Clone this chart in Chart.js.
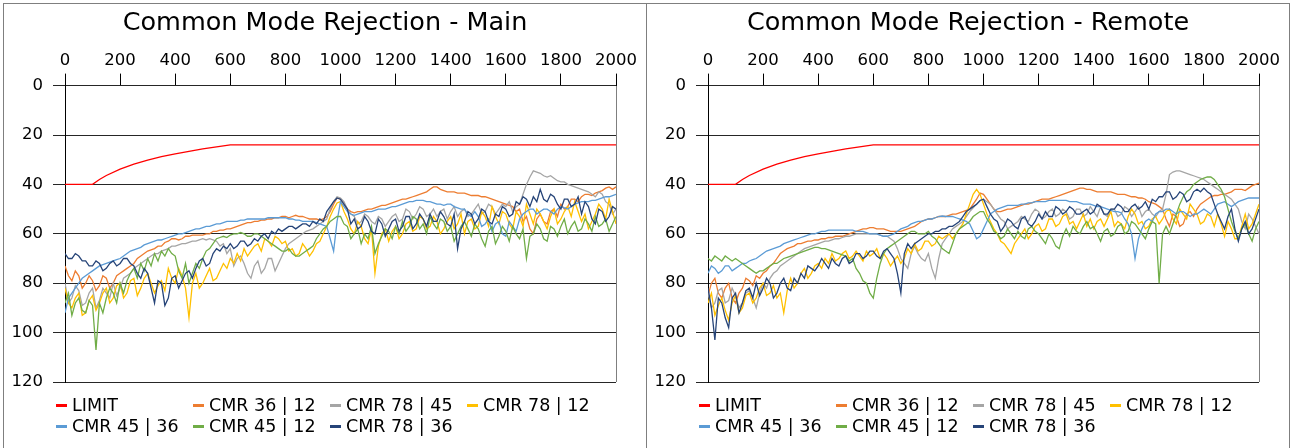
<!DOCTYPE html>
<html>
<head>
<meta charset="utf-8">
<script src="https://cdn.jsdelivr.net/npm/chart.js@4.4.1/dist/chart.umd.min.js"></script>
<style>
  body { margin: 0; width: 1290px; height: 448px; overflow: hidden; background: #fff; position: relative; font-family: "DejaVu Sans", sans-serif; }
  .panel { position: absolute; top: 3px; width: 644px; height: 470px; border: 1px solid #7f7f7f; box-sizing: border-box; }
  #p1 { left: 3px; }
  #p2 { left: 646px; }
  .panel canvas { position: absolute; left: 0; top: 0; }
  .item { position: absolute; font-size: 17.5px; line-height: 20px; white-space: nowrap; color: #000; }
  .item i { display: inline-block; width: 11px; height: 3px; vertical-align: middle; margin-right: 5px; position: relative; top: -1px; }
</style>
</head>
<body>
<div class="panel" id="p1"><canvas id="mainChart" width="642" height="444"></canvas></div>
<div class="panel" id="p2"><canvas id="remoteChart" width="642" height="444"></canvas></div>
<script>
// sample positions shared by all measured traces
const freq = [
  0, 12.5, 25, 37.5, 50, 62.5, 75, 87.5,
  100, 112.5, 125, 137.5, 150, 162.5, 175, 187.5,
  200, 212.5, 225, 237.5, 250, 262.5, 275, 287.5,
  300, 312.5, 325, 337.5, 350, 362.5, 375, 387.5,
  400, 412.5, 425, 437.5, 450, 462.5, 475, 487.5,
  500, 512.5, 525, 537.5, 550, 562.5, 575, 587.5,
  600, 612.5, 625, 637.5, 650, 662.5, 675, 687.5,
  700, 712.5, 725, 737.5, 750, 762.5, 775, 787.5,
  800, 812.5, 825, 837.5, 850, 862.5, 875, 887.5,
  900, 912.5, 925, 937.5, 950, 962.5, 975, 987.5,
  1000, 1012.5, 1025, 1037.5, 1050, 1062.5, 1075, 1087.5,
  1100, 1112.5, 1125, 1137.5, 1150, 1162.5, 1175, 1187.5,
  1200, 1212.5, 1225, 1237.5, 1250, 1262.5, 1275, 1287.5,
  1300, 1312.5, 1325, 1337.5, 1350, 1362.5, 1375, 1387.5,
  1400, 1412.5, 1425, 1437.5, 1450, 1462.5, 1475, 1487.5,
  1500, 1512.5, 1525, 1537.5, 1550, 1562.5, 1575, 1587.5,
  1600, 1612.5, 1625, 1637.5, 1650, 1662.5, 1675, 1687.5,
  1700, 1712.5, 1725, 1737.5, 1750, 1762.5, 1775, 1787.5,
  1800, 1812.5, 1825, 1837.5, 1850, 1862.5, 1875, 1887.5,
  1900, 1912.5, 1925, 1937.5, 1950, 1962.5, 1975, 1987.5,
  2000
];

const limitFreq = [0, 100, 125, 150, 200, 250, 300, 350, 400, 450, 500, 550, 600, 2000];
const limitDb = [40, 40, 38, 36.4, 33.8, 31.8, 30.2, 28.8, 27.6, 26.6, 25.6, 24.8, 24, 24];

const seriesNames = ["CMR 36 | 12", "CMR 78 | 45", "CMR 78 | 12", "CMR 45 | 36", "CMR 45 | 12", "CMR 78 | 36"];

// Main
const main_36_12 = [
  73, 77, 79, 75, 77, 82, 80, 77,
  79, 83, 81, 77, 78, 82, 80, 77,
  76, 75, 74, 73, 72, 70, 69, 68,
  67, 66.5, 66, 65, 65, 63.5, 63, 62,
  62, 62.5, 62, 61, 61, 60.5, 60.5, 60.5,
  60.5, 60, 60, 59, 59, 58.5, 58.5, 58,
  58, 57.5, 57, 56.5, 56, 55.5, 55.5, 55,
  55, 54.5, 54.5, 54, 54, 53.5, 53.5, 53,
  53, 53.5, 53, 52.5, 53, 53, 53.5, 54,
  54, 54, 54.5, 54, 53, 51, 48, 45.5,
  46, 48, 50, 51, 51.5, 51, 51, 50.5,
  50, 50, 49.5, 49, 48.5, 48.5, 48, 47.5,
  47, 46.5, 46, 46, 45.5, 45, 44.5, 44,
  43.5, 43, 42, 41, 41, 42, 42.5, 43,
  43, 43, 43.5, 43.5, 43.5, 44, 44.5, 44.5,
  44.5, 45, 45, 45.5, 46, 46.5, 47, 47.5,
  48, 48.5, 49, 51, 50, 55, 53, 58,
  60, 54, 52, 55, 56, 51, 50, 53,
  48, 50, 49, 46, 46, 47, 45, 44,
  44, 44.5, 43.5, 43, 42.5, 41.5, 41, 42,
  41
];
const main_78_45 = [
  80, 88, 86, 81, 83, 89, 88, 84,
  82, 90, 87, 82, 84, 86, 80, 85,
  82, 78, 77, 76, 74, 73, 72, 71,
  70, 69, 68, 68, 67, 66.5, 66, 65,
  65, 64.5, 64, 64, 63.5, 63, 63, 62.5,
  62, 62.5, 62, 62.5, 63, 65, 64, 68,
  66, 73, 70, 69, 72, 76, 78, 73,
  71, 76, 74, 70, 70, 75, 72, 69,
  66, 64, 63, 62, 61, 60, 59, 58.5,
  58, 57, 56, 55, 54, 50, 47, 45,
  45.5, 47, 50, 52, 53, 56, 55, 52,
  53, 55, 56, 53, 54, 57, 55, 53,
  52, 55, 54, 50, 51, 54, 52, 49,
  50, 53, 52, 50, 53, 51, 50, 54,
  51, 49, 53, 51, 50, 53, 52, 50,
  48, 52, 51, 48, 49, 52, 50, 48,
  49, 47, 51, 49, 48, 44, 40, 37,
  34.5, 35, 35.5, 36.5, 37, 36.5, 37.5, 38.5,
  39, 39, 40, 40.5, 41, 41.5, 42, 42.5,
  43, 44, 45, 43, 44, 47, 48, 52,
  50
];
const main_78_12 = [
  82, 88, 90, 86, 84, 93, 92, 87,
  85, 91, 88, 84, 82, 88, 86, 81,
  80, 86, 84, 79, 78, 85, 82, 78,
  76, 80, 84, 81, 79, 83, 74, 78,
  80, 74, 77, 82, 94, 80, 76, 82,
  80, 77, 74, 79, 78, 75, 72, 74,
  70, 72, 68, 71, 66, 69, 67, 65,
  64, 67, 62, 63, 65, 61, 62, 64,
  63, 67, 66, 69, 68, 64, 66, 69,
  67, 64, 63, 60, 57, 53, 50, 47.5,
  47, 51, 54, 58, 60, 55, 57, 62,
  64, 58, 76, 65, 60, 58, 63, 59,
  57, 62, 60, 56, 55, 59, 58, 53,
  54, 58, 57, 53, 55, 60, 58, 55,
  53, 58, 56, 52, 60, 55, 54, 58,
  57, 51, 53, 57, 49, 53, 56, 51,
  52, 56, 58, 51, 53, 57, 48, 52,
  56, 50, 52, 55, 58, 53, 50, 56,
  54, 51, 49, 53, 47, 51, 55, 52,
  58, 55, 52, 48, 50, 54, 46, 51,
  56
];
const main_45_36 = [
  92, 86, 84, 82, 80, 78, 77, 76,
  75, 74, 73, 72.5, 72, 71.5, 71, 70.5,
  70, 69, 68, 67, 66.5, 66, 65.5, 64.5,
  64, 63.5, 63, 62.5, 62.5, 62, 61.5, 61,
  60.5, 60, 60, 59.5, 59, 58.5, 58, 58,
  57.5, 57, 57, 56.5, 56, 56, 55.5, 55,
  55, 55, 55, 54.5, 54.5, 54, 54, 54,
  54, 54, 54, 53.5, 53.5, 53.5, 53.5, 53.5,
  53.5, 54, 54, 54.5, 54.5, 55, 55, 55,
  55, 55.5, 56, 56.5, 57, 62, 67, 55,
  47, 49, 51, 52, 52.5, 52, 51.5, 51,
  51, 51, 50.5, 50, 50, 50, 49.5, 49,
  49, 48.5, 48, 47.5, 47, 47, 46.5, 46.5,
  46.5, 47, 47, 47.5, 48, 48, 48.5, 48,
  48, 49, 49.5, 50, 50, 52, 53, 51,
  53, 57, 56, 54, 59, 56, 55, 60,
  61, 55, 57, 59, 54, 52, 51, 50,
  50, 52, 51, 50, 50, 51, 52, 50,
  49, 49.5, 50, 49, 48, 47.5, 47, 47,
  47, 46.5, 46.5, 46, 45.5, 45, 45, 44.5,
  44
];
const main_45_12 = [
  88, 84, 93, 88, 86, 91, 92, 87,
  89, 107, 88, 92, 86, 82, 84, 88,
  80, 84, 79, 76, 74, 78, 72, 75,
  70, 73, 68, 71, 67, 69, 66, 68,
  69, 75, 78, 72, 80, 76, 72, 74,
  70, 67, 66, 64, 62, 61.5, 61, 61.5,
  60.5, 60, 60, 59.5, 60, 61, 61, 60,
  60, 61, 62, 63, 64, 65, 66, 67,
  67, 66, 68, 69, 69, 68, 67, 66,
  65, 62, 60, 58, 57, 55, 54, 53,
  53, 56, 57, 62, 60, 58, 64, 60,
  62, 57, 68, 64, 61, 58, 59, 62,
  57, 60, 55, 59, 57, 53, 54, 58,
  56, 60, 53, 56, 58, 54, 55, 59,
  57, 63, 60, 57, 55, 58, 61, 56,
  58, 62, 65, 59, 57, 64, 61, 57,
  59, 63, 57, 60, 62, 58, 70, 61,
  60, 56, 58, 62, 63, 57, 58, 61,
  57, 54, 60, 57, 55, 59, 58, 54,
  56, 59, 53, 57, 56, 54, 59, 56,
  53
];
const main_78_36 = [
  68, 70, 70, 68, 69, 71, 71, 73,
  73, 71, 72, 75, 74, 72, 71, 73,
  72, 70, 70, 72, 73, 76, 78, 74,
  76, 82, 88, 79, 80, 89, 86, 78,
  77, 82, 79, 76, 75, 78, 74, 71,
  70, 73, 72, 68, 66, 67, 65, 66,
  64, 66, 65, 63, 63, 65, 64, 62,
  63, 61, 60, 62, 59, 60, 58, 59,
  58, 57, 57, 58, 57, 56, 56, 57,
  55, 56, 54, 55, 51, 49, 47, 45.5,
  46, 48, 50, 56, 54, 58, 57, 53,
  55, 59, 60, 54, 56, 61, 58, 55,
  54, 59, 57, 53, 53, 58, 56, 52,
  54, 57, 52, 55, 55, 51, 53, 56,
  57, 52, 66, 58, 55, 51, 52, 56,
  54, 50, 51, 55, 56, 52, 53, 49,
  50, 53, 52, 47, 48, 45, 46, 49,
  45, 47, 42, 46, 47, 44, 45, 48,
  50, 46, 46, 49, 48, 45, 52, 47,
  49, 54, 56, 50, 51, 55, 53, 49,
  50
];

// Remote
const remote_36_12 = [
  85, 80, 78, 84, 86, 82, 80, 86,
  88, 84, 82, 78, 79, 81, 77, 78,
  76, 75, 73, 72, 70, 68, 67, 66,
  65.5, 65, 64, 64, 63.5, 63, 63, 62.5,
  62.5, 62, 62, 61.5, 61.5, 61, 61, 61,
  60.5, 60, 59.5, 59, 58.5, 58, 58, 57.5,
  57.5, 58, 58, 58, 58.5, 59, 59, 59,
  59, 58.5, 58, 57.5, 57, 56, 55, 54.5,
  54, 54, 53.5, 53, 53, 53, 52.5, 52,
  52, 51.5, 51, 50.5, 50, 48, 46, 43.5,
  44, 46, 48, 50, 51, 51, 50.5, 50,
  50, 49.5, 49, 48.5, 48, 48, 47.5, 47,
  46.5, 46, 46, 46, 45.5, 45, 44.5, 44,
  43.5, 43, 42.5, 42, 41.5, 41.5, 42, 42,
  42.5, 43, 43, 43, 43, 43, 43.5, 44,
  44, 44, 44.5, 45, 45, 45.5, 45.5, 46,
  47, 47.5, 48, 49, 50, 54, 57, 52,
  53, 57, 56, 52, 51, 53, 50, 48,
  47, 46, 45, 44.5, 44.5, 44, 44, 43.5,
  43, 42, 42, 42, 42.5, 41.5, 40.5, 40,
  39.5
];
const remote_78_45 = [
  84, 90, 88, 83, 82, 88, 87, 82,
  85, 90, 88, 84, 83, 86, 90, 84,
  80, 82, 78, 76, 75, 73, 72, 71,
  70, 69, 68, 67, 66, 65.5, 65, 64.5,
  64, 63.5, 63, 63, 62.5, 62, 62, 61.5,
  61, 61, 60.5, 60, 60, 60, 60, 60,
  60, 60, 60.5, 61, 61, 62, 63, 66,
  70, 72, 74, 68, 65, 68, 70, 71,
  68, 74, 78, 70, 64, 62, 60, 58,
  57, 56, 55, 53, 51, 49.5, 48, 46.5,
  46, 47, 48, 50, 52, 54, 55, 58,
  57, 56, 55, 53, 54, 55, 52, 50,
  51, 54, 53, 51, 50, 53, 52, 50,
  51, 54, 53, 50, 50, 53, 52, 49,
  51, 53, 49, 52, 53, 50, 50, 53,
  52, 49, 50, 53, 51, 49, 53, 51,
  50, 52, 53, 51, 50, 44, 36, 35,
  34.5, 34.5, 35, 35.5, 36, 36.5, 37, 37.5,
  38, 39, 40, 41, 42, 43, 44, 45,
  46, 48, 50, 55, 58, 52, 54, 57,
  60
];
const remote_78_12 = [
  88, 84, 93, 89, 86, 91, 95, 88,
  85, 92, 90, 85, 84, 88, 86, 82,
  80, 85, 84, 81, 86, 84, 92, 83,
  78, 82, 80, 76, 74, 78, 76, 73,
  72, 74, 70, 72, 68, 71, 70, 68,
  67, 70, 69, 67, 69, 71, 67, 69,
  68, 66, 70, 68, 70, 73, 71, 69,
  72, 70, 66, 68, 64, 67, 66, 63,
  63, 65, 64, 61, 62, 61, 60, 62,
  60, 58, 56, 52, 48, 44, 42, 44,
  48, 52, 55, 58, 60, 63, 64, 66,
  68, 64, 62, 60, 58, 62, 60, 57,
  56, 59, 58, 54, 54, 57, 56, 53,
  52, 56, 55, 58, 55, 52, 57, 54,
  58, 55, 54, 57, 54, 51, 57, 55,
  56, 58, 53, 50, 52, 56, 55, 58,
  57, 54, 53, 56, 54, 51, 50, 54,
  56, 50, 52, 54, 48, 50, 52, 56,
  55, 52, 53, 57, 52, 56, 61, 55,
  58, 62, 62, 57, 52, 58, 56, 52,
  48
];
const remote_45_36 = [
  76, 73, 74, 76, 75, 73, 73, 75,
  74, 73, 72, 72, 71, 70.5, 70, 69,
  68, 67, 66.5, 66, 65.5, 65, 64, 63.5,
  63, 62.5, 62, 61.5, 61, 60.5, 60, 60,
  59.5, 59, 59, 58.5, 58.5, 58.5, 58.5, 58.5,
  58.5, 58.5, 58.5, 59, 59, 59, 59.5, 60,
  60, 60, 60.5, 61, 61, 60.5, 60, 59,
  58, 57.5, 57, 56, 55.5, 55, 55, 54.5,
  54, 54, 53.5, 53, 52.8, 53, 53, 53,
  53.5, 54, 54.5, 55, 56, 59, 62, 61,
  58, 55, 52, 51, 50, 49.5, 49, 48.5,
  48.5, 48.5, 48.5, 48, 48, 47.5, 47.5, 47,
  47, 47, 47, 46.5, 46.5, 46.5, 46.5, 46.5,
  46.5, 47, 47, 47, 47.5, 48, 48, 48,
  48.5, 49, 49, 49.5, 50, 50.5, 51, 51,
  51.5, 54, 56, 60, 70, 62, 58, 55,
  54, 55, 52, 51, 51, 50, 50, 51,
  52, 51, 51, 52, 53, 52, 52, 51,
  50, 51, 52, 50, 48, 47.5, 47, 48,
  49, 48, 47, 46.5, 46, 45.5, 45.5, 45.5,
  45.5
];
const remote_45_12 = [
  70, 71, 69, 70, 71, 69, 70, 71,
  70, 71, 72, 73, 74, 75, 76, 75,
  75, 74, 73, 72, 72, 71, 70, 69.5,
  69, 68.5, 68, 67.5, 67, 66.5, 66, 65.5,
  65.5, 66, 66, 66.5, 67, 67.5, 68, 68.5,
  69, 71, 70, 74, 76, 79, 80, 84,
  86, 78, 72, 68, 66, 65, 64, 63,
  62, 61, 60, 59, 59, 60, 60, 60,
  59, 61, 62, 64, 66, 67, 68, 64,
  60, 58, 57, 56, 55, 53, 52, 51,
  51, 54, 56, 59, 60, 62, 61, 58,
  60, 62, 59, 61, 62, 58, 57, 59,
  60, 62, 64, 60, 62, 65, 66, 61,
  58, 61, 57, 59, 60, 57, 55, 58,
  57, 60, 63, 59, 58, 61, 60, 57,
  56, 60, 59, 55, 56, 58, 60, 62,
  58, 55, 56, 80, 60, 57, 60, 56,
  52, 48, 45, 43, 42, 40, 39, 38,
  37.5, 37, 37, 38, 40, 42, 45, 50,
  55, 59, 62, 58, 56, 60, 63, 58,
  55
];
const remote_78_36 = [
  82, 90, 103, 86, 88, 94, 98, 86,
  84, 92, 88, 83, 82, 86, 80, 85,
  82, 78, 80, 86, 84, 80, 78, 82,
  83, 78, 80, 76, 78, 73, 74, 75,
  73, 70, 72, 74, 70, 72, 73, 70,
  69, 72, 71, 68, 68, 70, 69, 67,
  67, 69, 70, 67, 66, 68, 70, 76,
  84, 68, 64, 66, 64, 63, 62, 61,
  60, 60, 59, 59, 58, 58, 57, 57,
  56, 55, 53, 51, 50, 49, 48, 46.5,
  46, 49, 52, 54, 55, 59, 57, 54,
  55, 57, 58, 54, 53, 56, 57, 55,
  52, 54, 51, 53, 53, 49, 50, 52,
  51, 49, 50, 52, 52, 51, 50, 52,
  51, 48, 49, 52, 52, 50, 50, 48,
  49, 51, 51, 49, 48, 50, 49, 47,
  50, 46, 47, 45, 45, 43, 43, 46,
  45, 43, 44, 47, 46, 43, 42, 43,
  41.5, 43, 44, 48, 52, 55, 58, 53,
  50, 58, 63, 58, 55, 60, 58, 54,
  50
];

const FONT = '"DejaVu Sans", sans-serif';
const LIMIT_COLOR = "#FF0000";
const SERIES_COLORS = ["#ED7D31", "#A5A5A5", "#FFC000", "#5B9BD5", "#70AD47", "#264478"];

Chart.defaults.font.family = FONT;
Chart.defaults.color = "#000";

function toPoints(xs, ys) {
  return xs.map((x, i) => ({ x: x, y: ys[i] }));
}

function drawPanel(canvasId, panelId, title, series) {
  const datasets = [
    { label: "LIMIT", data: toPoints(limitFreq, limitDb), borderColor: LIMIT_COLOR },
  ];
  series.forEach((ys, i) => {
    datasets.push({ label: seriesNames[i], data: toPoints(freq, ys), borderColor: SERIES_COLORS[i] });
  });
  // later series sit on top, like the spreadsheet
  datasets.forEach((d, i) => {
    d.order = -i;
    d.borderWidth = 1.3;
    d.pointRadius = 0;
    d.fill = false;
    d.tension = 0;
  });

  const ctx = document.getElementById(canvasId).getContext("2d");
  new Chart(ctx, {
    type: "line",
    data: { datasets },
    options: {
      responsive: false,
      animation: false,
      events: [],
      layout: { padding: { left: 0, right: 0, top: 0, bottom: 66 } },
      plugins: {
        legend: { display: false },
        tooltip: { enabled: false },
        title: {
          display: true,
          text: title,
          color: "#000",
          font: { size: 25.5, weight: "normal" },
          padding: { top: 4, bottom: 0 },
        },
      },
      scales: {
        x: {
          type: "linear",
          position: "top",
          min: 0,
          max: 2000,
          afterFit: (scale) => { scale.height = 47; },
          ticks: {
            stepSize: 200, padding: 3, color: "#000", font: { size: 16.5 },
            maxRotation: 0, autoSkip: false,
            callback: (v) => String(v),
          },
          grid: {
            color: (c) => (c.tick && c.tick.value === 2000 ? "#7f7f7f" : "rgba(0,0,0,0)"),
            tickColor: "#000",
            tickLength: 12,
          },
          border: { display: false },
        },
        y: {
          reverse: true,
          min: 0,
          max: 120,
          afterFit: (scale) => { scale.width = 61; },
          ticks: { stepSize: 20, padding: 10, color: "#000", font: { size: 16.5 } },
          grid: { color: "#262626", tickLength: 12 },
          border: { color: "#000" },
        },
        // empty right-hand strip so the title centres on the whole panel
        gap: {
          type: "linear",
          position: "right",
          afterFit: (scale) => { scale.width = 30; },
          ticks: { display: false },
          grid: { display: false },
          border: { display: false },
        },
      },
    },
  });

  // legend laid out in a fixed 4-column grid
  const panel = document.getElementById(panelId);
  datasets.forEach((d, i) => {
    const item = document.createElement("div");
    item.className = "item";
    item.style.left = (52 + (i % 4) * 137) + "px";
    item.style.top = (391 + Math.floor(i / 4) * 21) + "px";
    item.innerHTML = '<i style="background:' + d.borderColor + '"></i>' + d.label;
    panel.appendChild(item);
  });
}

drawPanel("mainChart", "p1", "Common Mode Rejection - Main",
  [main_36_12, main_78_45, main_78_12, main_45_36, main_45_12, main_78_36]);
drawPanel("remoteChart", "p2", "Common Mode Rejection - Remote",
  [remote_36_12, remote_78_45, remote_78_12, remote_45_36, remote_45_12, remote_78_36]);
</script>
</body>
</html>
